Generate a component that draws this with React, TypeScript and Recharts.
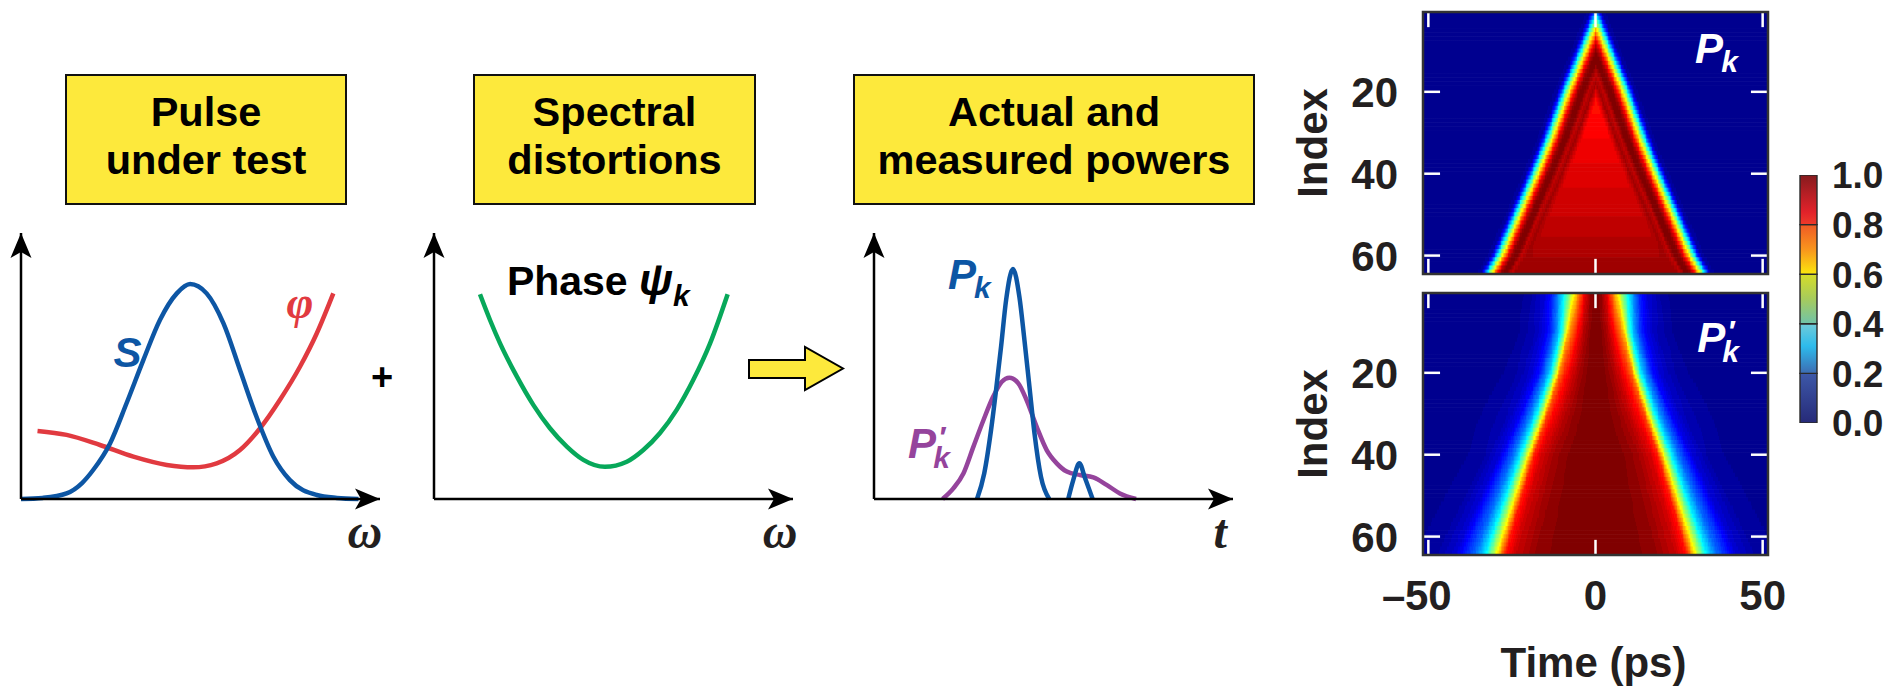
import React, { useMemo } from 'react';
import {
  LineChart, Line, XAxis, YAxis, ReferenceDot, BarChart, Bar,
  ReferenceLine, ReferenceArea, Label,
} from 'recharts';

const SANS = '"Liberation Sans", Arial, Helvetica, sans-serif';
const SERIF = '"Liberation Serif", "Times New Roman", Times, serif';
const INK = '#231f20';
const BLUE = '#0d56a4';
const RED = '#e13a40';
const GREEN = '#07a85a';
const PURPLE = '#95449c';
const YELLOW = '#fde93c';

// ---------- titles ----------
const TITLE_LINES = [
  ['Pulse', 'under test'],
  ['Spectral', 'distortions'],
  ['Actual and', 'measured powers'],
];

// ---------- panel 1: spectrum S and phase φ ----------
const S_OMEGA = [0, 6, 12.7, 17, 20.1, 24.8, 29.4, 34.1, 38.7, 43.4, 47.1, 51.7, 56.4, 61, 65.6, 70.3, 74.9, 82.4, 88, 94];
const S_VALUE = [0, 0.4, 2.1, 6, 10.9, 20.9, 36, 52.3, 67.3, 77.3, 80.8, 77.3, 66, 48.5, 30.9, 15.9, 7.1, 1.5, 0.4, 0];
const PHI_OMEGA = [4.6, 12.7, 22, 31.3, 40.6, 48, 54.5, 61, 66.6, 72.1, 77.7, 82.4, 87];
const PHI_VALUE = [25.6, 24.1, 20.3, 15.9, 12.8, 11.9, 13.4, 18.4, 26.6, 37.2, 49.7, 62.3, 77.3];

// ---------- panel 2: phase ψk ----------
const PSI_OMEGA = [12.8, 15.6, 18.4, 23.1, 27.7, 32.3, 37, 41.6, 47.6, 53.7, 58.3, 62.9, 67.6, 72.2, 76.9, 81.8];
const PSI_VALUE = [77, 67.3, 58.5, 46, 35.3, 26.6, 19.7, 14.7, 12.1, 14, 18.4, 24.7, 33.5, 44.7, 58.5, 77];

// ---------- panel 3: powers ----------
const PK_T = [28.7, 30.7, 32.6, 34, 35.4, 36.8, 38.7, 40.5, 41.9, 43.3, 44.7, 46.5, 48.8];
const PK_V = [0, 9.6, 25.9, 41, 57.3, 74.8, 86.5, 76, 59.8, 42.2, 24.7, 8.4, 0];
const PK2_T = [54.1, 55.5, 57.2, 58.8, 60.9];
const PK2_V = [0, 7.1, 13.4, 7.8, 0];
const PPK_T = [19.1, 22.1, 24.9, 27.7, 30.5, 33.2, 35.6, 37.7, 40.2, 42.5, 45.3, 48.1, 50.9, 53.7, 57.4, 61.1, 64.8, 68.5, 73];
const PPK_V = [0, 4, 9.6, 19.7, 29.7, 38.5, 44.1, 45.6, 43.5, 37.2, 27.2, 18.4, 13.4, 10.3, 9, 8.1, 5.3, 2.1, 0];

// ---------- heatmaps ----------
const T_MIN = -51.6;
const T_MAX = 51.6;
const TIME_TICKS = [-50, 0, 50];
const INDEX_TICKS = [20, 40, 60];
const INDEX_ROWS = Array.from({ length: 64 }, (_, i) => i + 1);
// Pk: triangle edge (cyan level) per index, interior level per index, edge profile vs. inward distance (ps)
const PK_EDGE_ROW = [1, 20, 32, 40, 60, 64];
const PK_EDGE_T = [0, 9.5, 14.8, 18.8, 29.4, 32.3];
const PK_INNER_ROW = [1, 10, 20, 30, 40, 50, 60, 64];
const PK_INNER_V = [0.75, 0.81, 0.844, 0.87, 0.898, 0.92, 0.953, 0.968];
const PK_PROFILE_D = [-4, -2, -1, 0, 0.8, 1.6, 2.4, 3.2, 4.4, 5.8, 7.2, 8.6];
const PK_PROFILE_V = [0, 0.03, 0.15, 0.35, 0.5, 0.63, 0.76, 0.88, 0.98, 1.0, 0.93, 0.96];
const PK_BLEND_D = 10.5;
// P'k: half-maximum half-width per index, normalized profiles at top and bottom rows
const PPK_HALF_ROW = [1, 10, 20, 30, 40, 50, 60, 64];
const PPK_HALF_T = [8, 9.2, 12, 16, 20.5, 24.5, 28.5, 30];
const PPK_U = [0, 0.2, 0.4, 0.6, 0.8, 0.9, 1.0, 1.1, 1.2, 1.4, 1.6, 1.9, 2.4, 3];
const PPK_TOP_V = [1, 0.97, 0.9, 0.78, 0.64, 0.57, 0.5, 0.43, 0.37, 0.26, 0.16, 0.08, 0.03, 0];
const PPK_BOTTOM_V = [1, 1, 0.99, 0.97, 0.92, 0.85, 0.58, 0.35, 0.22, 0.07, 0.025, 0.01, 0, 0];
const PPK_MIX_ROW = [1, 10, 20, 40, 64];
const PPK_MIX = [0, 0.4, 0.65, 0.95, 1];

// ---------- colorbar ----------
const CB_TICKS = [0, 0.2, 0.4, 0.6, 0.8, 1.0];
const CB_KEYS = ['s0', 's1', 's2', 's3', 's4'];
const CB_DATA = [{ name: 'scale', s0: 0.2, s1: 0.2, s2: 0.2, s3: 0.2, s4: 0.2 }];
const CB_GRADIENTS: [number, string][][] = [
  [[0, '#3d58a8'], [1, '#262a78']],
  [[0, '#70cbd9'], [0.45, '#2dbbec'], [1, '#3d6cb2']],
  [[0, '#d6dc28'], [0.5, '#a6cb5c'], [1, '#70c3a9']],
  [[0, '#ef5a25'], [0.5, '#f8951d'], [1, '#fbe70d']],
  [[0, '#851a1d'], [0.4, '#b81f25'], [0.75, '#e2222a'], [1, '#ee3b29']],
];

// ---------- helpers ----------
const curve = (xs: number[], ys: number[]) => xs.map((x, i) => ({ x, y: ys[i] }));

function interp(xs: number[], ys: number[], x: number) {
  const n = xs.length;
  if (x <= xs[0]) return ys[0];
  if (x >= xs[n - 1]) return ys[n - 1];
  for (let i = 1; i < n; i++) {
    if (x <= xs[i]) {
      const f = (x - xs[i - 1]) / (xs[i] - xs[i - 1]);
      return ys[i - 1] + f * (ys[i] - ys[i - 1]);
    }
  }
  return ys[n - 1];
}

const clamp01 = (v: number) => Math.max(0, Math.min(1, v));
function jet(v: number) {
  const i = Math.min(64, Math.max(1, Math.floor(clamp01(v) * 64) + 1));
  const x = i / 64;
  const r = clamp01(Math.min(4 * x - 1.5, -4 * x + 4.5));
  const g = clamp01(Math.min(4 * x - 0.5, -4 * x + 3.5));
  const b = clamp01(Math.min(4 * x + 0.5, -4 * x + 2.5));
  return `rgb(${Math.round(r * 255)},${Math.round(g * 255)},${Math.round(b * 255)})`;
}

function pkValue(k: number, t: number) {
  const w = interp(PK_EDGE_ROW, PK_EDGE_T, k);
  const inner = interp(PK_INNER_ROW, PK_INNER_V, k);
  const d = w - Math.abs(t);
  const n = PK_PROFILE_D.length;
  if (d <= PK_PROFILE_D[n - 1]) return interp(PK_PROFILE_D, PK_PROFILE_V, d);
  if (d >= PK_BLEND_D) return inner;
  const f = (d - PK_PROFILE_D[n - 1]) / (PK_BLEND_D - PK_PROFILE_D[n - 1]);
  return PK_PROFILE_V[n - 1] + f * (inner - PK_PROFILE_V[n - 1]);
}

function ppkValue(k: number, t: number) {
  const w = interp(PPK_HALF_ROW, PPK_HALF_T, k);
  const m = interp(PPK_MIX_ROW, PPK_MIX, k);
  const u = Math.abs(t) / w;
  const a = interp(PPK_U, PPK_TOP_V, u);
  const b = interp(PPK_U, PPK_BOTTOM_V, u);
  return a + m * (b - a);
}

const SAMPLES = 400;
function buildStops(valueAt: (k: number, t: number) => number, k: number) {
  const stops: [number, string][] = [];
  let prev = '';
  for (let i = 0; i <= SAMPLES; i++) {
    const f = i / SAMPLES;
    const t = T_MIN + f * (T_MAX - T_MIN);
    const c = jet(valueAt(k, t));
    if (c !== prev) {
      if (prev) stops.push([f, prev]);
      stops.push([f, c]);
      prev = c;
    }
  }
  stops.push([1, prev]);
  return stops;
}

const rightHead = (p: any) => (
  <polygon
    points={`${p.cx},${p.cy} ${p.cx - 25},${p.cy - 10.5} ${p.cx - 19},${p.cy} ${p.cx - 25},${p.cy + 10.5}`}
    fill="#000"
  />
);
const upHead = (p: any) => (
  <polygon
    points={`${p.cx},${p.cy} ${p.cx - 10.5},${p.cy + 25} ${p.cx},${p.cy + 19} ${p.cx + 10.5},${p.cy + 25}`}
    fill="#000"
  />
);

const plainText = (content: string, color: string, size: number, family: string, italic: boolean, anchor = 'middle') =>
  (p: any) => (
    <text x={p.cx} y={p.cy} fill={color} fontFamily={family} fontWeight={700}
      fontStyle={italic ? 'italic' : 'normal'} fontSize={size} textAnchor={anchor}>
      {content}
    </text>
  );

const pkText = (color: string, prime: boolean) => (p: any) => (
  <text x={p.cx} y={p.cy} fill={color} fontFamily={SANS} fontWeight={700} fontStyle="italic" fontSize={42}>
    P
    {prime ? (
      <>
        <tspan fontSize={30} dx={2} dy={-11}>′</tspan>
        <tspan fontSize={30} dx={-12} dy={21}>k</tspan>
      </>
    ) : (
      <tspan fontSize={30} dx={-2} dy={9}>k</tspan>
    )}
  </text>
);

const phaseText = (p: any) => (
  <text x={p.cx} y={p.cy} fill="#000" fontFamily={SANS} fontWeight={700} fontSize={41}>
    Phase{' '}
    <tspan fontStyle="italic" fontSize={44}>ψ</tspan>
    <tspan fontStyle="italic" fontSize={30} dy={11}>k</tspan>
  </text>
);

const axisLineStyle = { stroke: '#000', strokeWidth: 2.5 };

function Schematic(props: { left: number; width: number; ml: number; mr: number; children: React.ReactNode }) {
  const { left, width, ml, mr, children } = props;
  return (
    <div style={{ position: 'absolute', left, top: 200 }}>
      <LineChart width={width} height={370} margin={{ top: 33, right: mr, bottom: 61, left: ml }}>
        <XAxis type="number" dataKey="x" domain={[0, 100]} tick={false} tickLine={false} axisLine={axisLineStyle} height={10} />
        <YAxis type="number" dataKey="y" domain={[0, 100]} tick={false} tickLine={false} axisLine={axisLineStyle} width={10} />
        {children}
        <ReferenceDot x={100} y={0} r={1} ifOverflow="visible" shape={rightHead} />
        <ReferenceDot x={0} y={100} r={1} ifOverflow="visible" shape={upHead} />
      </LineChart>
    </div>
  );
}

const IndexTick = (p: any) => (
  <text x={p.x} y={p.y} dy="0.36em" textAnchor="end" fontFamily={SANS} fontWeight={700} fontSize={42} fill={INK}>
    {p.payload.value}
  </text>
);

const TimeTick = (p: any) => {
  const v = p.payload.value;
  const s = String(Math.abs(v));
  return (
    <g>
      <text x={p.x} y={p.y + 55} textAnchor="middle" fontFamily={SANS} fontWeight={700} fontSize={42} fill={INK}>{s}</text>
      {v < 0 ? (
        <text x={p.x - 23} y={p.y + 55} textAnchor="end" fontFamily={SANS} fontWeight={700} fontSize={42} fill={INK}>–</text>
      ) : null}
    </g>
  );
};

const CbTick = (p: any) => (
  <text x={p.x} y={p.y} dy="0.36em" textAnchor="start" fontFamily={SANS} fontWeight={700} fontSize={37} fill={INK}>
    {Number(p.payload.value).toFixed(1)}
  </text>
);

const indexLabel = (p: any) => {
  const vb = p.viewBox || {};
  const x = vb.x + vb.width - 96;
  const y = vb.y + vb.height / 2;
  return (
    <text x={x} y={y} transform={`rotate(-90 ${x} ${y})`} textAnchor="middle"
      fontFamily={SANS} fontWeight={700} fontSize={42} fill={INK}>Index</text>
  );
};

const timeLabel = (p: any) => {
  const vb = p.viewBox || {};
  const x = vb.x + vb.width / 2 - 2;
  const y = vb.y + 122;
  return (
    <text x={x} y={y} textAnchor="middle" fontFamily={SANS} fontWeight={700} fontSize={42} fill={INK}>Time (ps)</text>
  );
};

const makeRowShape = (prefix: string, table: Record<number, [number, string][]>) => (p: any) => {
  const k = p.payload.k;
  const id = `${prefix}${k}`;
  return (
    <g>
      <defs>
        <linearGradient id={id} x1="0" y1="0" x2="1" y2="0">
          {table[k].map(([o, c], i) => <stop key={i} offset={o} stopColor={c} />)}
        </linearGradient>
      </defs>
      <rect x={p.x} y={p.y - 0.35} width={p.width} height={p.height + 0.7} fill={`url(#${id})`} />
    </g>
  );
};

function Heatmap(props: {
  top: number; height: number; mb: number; showTime: boolean;
  prefix: string; valueAt: (k: number, t: number) => number; prime: boolean; labelK: number; labelT: number;
}) {
  const { top, height, mb, showTime, prefix, valueAt, prime, labelK, labelT } = props;
  const table = useMemo(() => {
    const out: Record<number, [number, string][]> = {};
    INDEX_ROWS.forEach((k) => { out[k] = buildStops(valueAt, k); });
    return out;
  }, [valueAt]);
  const rows = useMemo(() => INDEX_ROWS.map((k) => ({ k, span: [T_MIN, T_MAX] })), []);
  const shape = useMemo(() => makeRowShape(prefix, table), [prefix, table]);
  return (
    <div style={{ position: 'absolute', left: 1280, top }}>
      <BarChart layout="vertical" width={530} height={height} data={rows}
        margin={{ top: 13, right: 42, bottom: mb, left: 43 }} barCategoryGap={0} barGap={0}>
        <XAxis type="number" domain={[T_MIN, T_MAX]} allowDataOverflow ticks={TIME_TICKS}
          hide={!showTime} height={showTime ? 100 : 0} axisLine={false} tickLine={false}
          tickSize={0} tickMargin={0} tick={TimeTick} interval={0}>
          {showTime ? <Label content={timeLabel} /> : null}
        </XAxis>
        <YAxis type="number" dataKey="k" domain={[0.5, 64.5]} allowDataOverflow ticks={INDEX_TICKS}
          width={100} axisLine={false} tickLine={false} tickSize={0} tickMargin={25} tick={IndexTick} interval={0}>
          <Label content={indexLabel} />
        </YAxis>
        <Bar dataKey="span" shape={shape} isAnimationActive={false} />
        {TIME_TICKS.map((t) => (
          <ReferenceLine key={`tt${t}`} segment={[{ x: t, y: 0.5 }, { x: t, y: 4.2 }]}
            stroke="#fff" strokeWidth={2.5} ifOverflow="visible" zIndex={1500} />
        ))}
        {TIME_TICKS.map((t) => (
          <ReferenceLine key={`tb${t}`} segment={[{ x: t, y: 60.8 }, { x: t, y: 64.5 }]}
            stroke="#fff" strokeWidth={2.5} ifOverflow="visible" zIndex={1500} />
        ))}
        {INDEX_TICKS.map((k) => (
          <ReferenceLine key={`yl${k}`} segment={[{ x: T_MIN, y: k }, { x: T_MIN + 5.1, y: k }]}
            stroke="#fff" strokeWidth={2.5} ifOverflow="visible" zIndex={1500} />
        ))}
        {INDEX_TICKS.map((k) => (
          <ReferenceLine key={`yr${k}`} segment={[{ x: T_MAX - 5.1, y: k }, { x: T_MAX, y: k }]}
            stroke="#fff" strokeWidth={2.5} ifOverflow="visible" zIndex={1500} />
        ))}
        <ReferenceArea x1={T_MIN} x2={T_MAX} y1={0.5} y2={64.5} fill="none" fillOpacity={0}
          stroke="#333" strokeWidth={2.5} strokeOpacity={1} ifOverflow="visible" zIndex={1600} />
        <ReferenceDot x={labelT} y={labelK} r={1} ifOverflow="visible" shape={pkText('#ffffff', prime)} zIndex={1700} />
      </BarChart>
    </div>
  );
}

function Colorbar() {
  return (
    <div style={{ position: 'absolute', left: 1790, top: 150 }}>
      <BarChart width={114} height={300} data={CB_DATA} margin={{ top: 25, right: 0, bottom: 27, left: 10 }}
        barCategoryGap={0} barGap={0}>
        <defs>
          {CB_GRADIENTS.map((g, i) => (
            <linearGradient key={i} id={`cbg${i}`} x1="0" y1="0" x2="0" y2="1">
              {g.map(([o, c], j) => <stop key={j} offset={o} stopColor={c} />)}
            </linearGradient>
          ))}
        </defs>
        <XAxis dataKey="name" hide />
        <YAxis orientation="right" type="number" domain={[0, 1]} allowDataOverflow ticks={CB_TICKS}
          width={87} axisLine={false} tickLine={false} tickSize={0} tickMargin={15} tick={CbTick} interval={0} />
        {CB_KEYS.map((key, i) => (
          <Bar key={key} dataKey={key} stackId="cb" fill={`url(#cbg${i})`} stroke="#2a2a2a" strokeWidth={1.4}
            isAnimationActive={false} />
        ))}
      </BarChart>
    </div>
  );
}

function TitleBox(props: { left: number; width: number; lines: string[] }) {
  const { left, width, lines } = props;
  return (
    <div style={{
      position: 'absolute', left, top: 74, width, height: 131, boxSizing: 'border-box',
      border: '2.5px solid #111', background: YELLOW, fontFamily: SANS, fontWeight: 700,
      fontSize: 41.5, lineHeight: '48px', textAlign: 'center', paddingTop: 12, color: '#000',
      whiteSpace: 'nowrap',
    }}>
      {lines.map((l, i) => <div key={i}>{l}</div>)}
    </div>
  );
}

export default function App() {
  return (
    <div style={{ position: 'absolute', left: 0, top: 0, width: 1904, height: 686, background: '#fff', overflow: 'hidden' }}>
      <TitleBox left={65} width={282} lines={TITLE_LINES[0]} />
      <TitleBox left={473} width={283} lines={TITLE_LINES[1]} />
      <TitleBox left={853} width={402} lines={TITLE_LINES[2]} />

      <svg style={{ position: 'absolute', left: 0, top: 0 }} width={1904} height={686}>
        <text x={382} y={390} textAnchor="middle" fontFamily={SANS} fontWeight={700} fontSize={38} fill="#000">+</text>
        <polygon points="749,360 805,360 805,347 843,368.5 805,390 805,378 749,378"
          fill={YELLOW} stroke="#000" strokeWidth={2} strokeLinejoin="miter" />
      </svg>

      <Schematic left={0} width={400} ml={11} mr={20}>
        <Line data={curve(PHI_OMEGA, PHI_VALUE)} dataKey="y" type="monotone" stroke={RED} strokeWidth={4.5} dot={false} isAnimationActive={false} />
        <Line data={curve(S_OMEGA, S_VALUE)} dataKey="y" type="monotone" stroke={BLUE} strokeWidth={4.5} dot={false} isAnimationActive={false} />
        <ReferenceDot x={29.7} y={49.6} r={1} ifOverflow="visible" shape={plainText('S', BLUE, 42, SANS, true)} />
        <ReferenceDot x={77.7} y={68} r={1} ifOverflow="visible" shape={plainText('φ', RED, 46, SERIF, true)} />
        <ReferenceDot x={95.8} y={-18.4} r={1} ifOverflow="visible" shape={plainText('ω', '#231f20', 48, SERIF, true)} />
      </Schematic>

      <Schematic left={400} width={420} ml={24} mr={27}>
        <Line data={curve(PSI_OMEGA, PSI_VALUE)} dataKey="y" type="monotone" stroke={GREEN} strokeWidth={4.5} dot={false} isAnimationActive={false} />
        <ReferenceDot x={20.3} y={76.7} r={1} ifOverflow="visible" shape={phaseText} />
        <ReferenceDot x={96.4} y={-18.4} r={1} ifOverflow="visible" shape={plainText('ω', '#231f20', 48, SERIF, true)} />
      </Schematic>

      <Schematic left={840} width={420} ml={24} mr={27}>
        <Line data={curve(PPK_T, PPK_V)} dataKey="y" type="monotone" stroke={PURPLE} strokeWidth={4.5} dot={false} isAnimationActive={false} />
        <Line data={curve(PK_T, PK_V)} dataKey="y" type="monotone" stroke={BLUE} strokeWidth={4.5} dot={false} isAnimationActive={false} />
        <Line data={curve(PK2_T, PK2_V)} dataKey="y" type="monotone" stroke={BLUE} strokeWidth={4.5} dot={false} isAnimationActive={false} />
        <ReferenceDot x={20.6} y={78.9} r={1} ifOverflow="visible" shape={pkText(BLUE, false)} />
        <ReferenceDot x={9.5} y={15.4} r={1} ifOverflow="visible" shape={pkText(PURPLE, true)} />
        <ReferenceDot x={96.4} y={-18.4} r={1} ifOverflow="visible" shape={plainText('t', '#231f20', 48, SERIF, true)} />
      </Schematic>

      <Heatmap top={-1} height={291} mb={16} showTime={false} prefix="pkrow" valueAt={pkValue}
        prime={false} labelK={13} labelT={29.8} />
      <Heatmap top={280} height={406} mb={31} showTime prefix="ppkrow" valueAt={ppkValue}
        prime labelK={14.9} labelT={30.4} />
      <Colorbar />
    </div>
  );
}
